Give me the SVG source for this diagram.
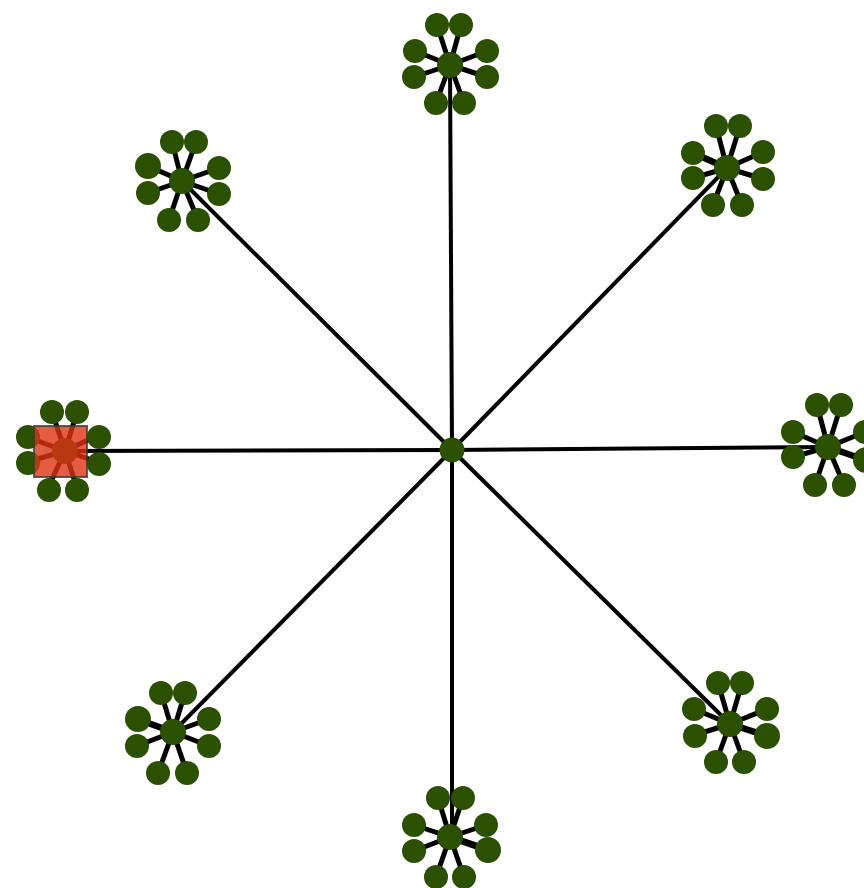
<svg xmlns="http://www.w3.org/2000/svg" width="864" height="888" viewBox="0 0 864 888">
<style>
.bg{fill:#ffffff}
.spoke{stroke:#000;stroke-width:4;stroke-linecap:butt}
.le{stroke:#000;stroke-width:5}
.n{fill:#2b5000}
.sel{fill:#dd3311;fill-opacity:0.8;stroke:#3a3a3a;stroke-opacity:0.8;stroke-width:2}
</style>
<rect class="bg" x="0" y="0" width="864" height="888"/>
<g id="connectors">
<line class="spoke" x1="452" y1="450" x2="450" y2="65"/>
<line class="spoke" x1="452" y1="450" x2="727" y2="168"/>
<line class="spoke" x1="452" y1="450" x2="828" y2="447"/>
<line class="spoke" x1="452" y1="450" x2="730" y2="724"/>
<line class="spoke" x1="452" y1="450" x2="452" y2="837"/>
<line class="spoke" x1="452" y1="450" x2="173" y2="732"/>
<line class="spoke" x1="452" y1="450" x2="65" y2="451"/>
<line class="spoke" x1="452" y1="450" x2="182" y2="181"/>
<g id="e-top"><line class="le" x1="450" y1="65" x2="437" y2="25"/><line class="le" x1="450" y1="65" x2="461" y2="25"/><line class="le" x1="450" y1="65" x2="415" y2="51"/><line class="le" x1="450" y1="65" x2="487" y2="51"/><line class="le" x1="450" y1="65" x2="414" y2="77"/><line class="le" x1="450" y1="65" x2="487" y2="77"/><line class="le" x1="450" y1="65" x2="436" y2="103"/><line class="le" x1="450" y1="65" x2="464" y2="103"/></g>
<g id="e-tr"><line class="le" x1="727" y1="168" x2="716" y2="126"/><line class="le" x1="727" y1="168" x2="740" y2="126"/><line class="le" x1="727" y1="168" x2="693" y2="153" style="stroke-width:6.5"/><line class="le" x1="727" y1="168" x2="763" y2="152"/><line class="le" x1="727" y1="168" x2="693" y2="178"/><line class="le" x1="727" y1="168" x2="763" y2="179"/><line class="le" x1="727" y1="168" x2="713" y2="205"/><line class="le" x1="727" y1="168" x2="742" y2="205"/></g>
<g id="e-r"><line class="le" x1="828" y1="447" x2="817" y2="405"/><line class="le" x1="828" y1="447" x2="841" y2="405"/><line class="le" x1="828" y1="447" x2="793" y2="432"/><line class="le" x1="828" y1="447" x2="865" y2="432"/><line class="le" x1="828" y1="447" x2="793" y2="457"/><line class="le" x1="828" y1="447" x2="865" y2="460" style="stroke-width:6.5"/><line class="le" x1="828" y1="447" x2="815" y2="485"/><line class="le" x1="828" y1="447" x2="844" y2="485"/></g>
<g id="e-br"><line class="le" x1="730" y1="724" x2="718" y2="683"/><line class="le" x1="730" y1="724" x2="742" y2="683"/><line class="le" x1="730" y1="724" x2="694" y2="709"/><line class="le" x1="730" y1="724" x2="767" y2="709"/><line class="le" x1="730" y1="724" x2="695" y2="735"/><line class="le" x1="730" y1="724" x2="767" y2="736" style="stroke-width:6.5"/><line class="le" x1="730" y1="724" x2="716" y2="762"/><line class="le" x1="730" y1="724" x2="744" y2="762"/></g>
<g id="e-b"><line class="le" x1="450" y1="837" x2="438" y2="798"/><line class="le" x1="450" y1="837" x2="463" y2="798"/><line class="le" x1="450" y1="837" x2="414" y2="825"/><line class="le" x1="450" y1="837" x2="486" y2="825"/><line class="le" x1="450" y1="837" x2="414" y2="851"/><line class="le" x1="450" y1="837" x2="488" y2="850" style="stroke-width:7"/><line class="le" x1="450" y1="837" x2="436" y2="877"/><line class="le" x1="450" y1="837" x2="464" y2="877"/></g>
<g id="e-bl"><line class="le" x1="173" y1="732" x2="161" y2="693"/><line class="le" x1="173" y1="732" x2="185" y2="693"/><line class="le" x1="173" y1="732" x2="137" y2="719" style="stroke-width:6.5"/><line class="le" x1="173" y1="732" x2="209" y2="719"/><line class="le" x1="173" y1="732" x2="137" y2="746"/><line class="le" x1="173" y1="732" x2="209" y2="746"/><line class="le" x1="173" y1="732" x2="158" y2="773"/><line class="le" x1="173" y1="732" x2="187" y2="773"/></g>
<g id="e-l"><line class="le" x1="65" y1="451" x2="52" y2="412"/><line class="le" x1="65" y1="451" x2="77" y2="412"/><line class="le" x1="65" y1="451" x2="27" y2="437"/><line class="le" x1="65" y1="451" x2="98" y2="435"/><line class="le" x1="65" y1="451" x2="27" y2="462"/><line class="le" x1="65" y1="451" x2="98" y2="462"/><line class="le" x1="65" y1="451" x2="48" y2="488"/><line class="le" x1="65" y1="451" x2="77" y2="488"/></g>
<g id="e-tl"><line class="le" x1="182" y1="181" x2="172" y2="142"/><line class="le" x1="182" y1="181" x2="196" y2="142"/><line class="le" x1="182" y1="181" x2="148" y2="166"/><line class="le" x1="182" y1="181" x2="219" y2="168"/><line class="le" x1="182" y1="181" x2="148" y2="193"/><line class="le" x1="182" y1="181" x2="219" y2="194"/><line class="le" x1="182" y1="181" x2="169" y2="220"/><line class="le" x1="182" y1="181" x2="198" y2="220"/></g>
</g>
<g id="center"><circle class="n" cx="452" cy="450" r="12.5"/></g>
<g id="hub-top"><circle class="n" cx="450" cy="65" r="13"/></g>
<g id="top-leaves"><circle class="n" cx="437" cy="25" r="12"/><circle class="n" cx="461" cy="25" r="12"/><circle class="n" cx="415" cy="51" r="12"/><circle class="n" cx="487" cy="51" r="12"/><circle class="n" cx="414" cy="77" r="12"/><circle class="n" cx="487" cy="77" r="12"/><circle class="n" cx="436" cy="103" r="12"/><circle class="n" cx="464" cy="103" r="12"/></g>
<g id="hub-tr"><circle class="n" cx="727" cy="168" r="13"/></g>
<g id="tr-leaves"><circle class="n" cx="716" cy="126" r="12"/><circle class="n" cx="740" cy="126" r="12"/><circle class="n" cx="693" cy="153" r="12"/><circle class="n" cx="763" cy="152" r="12"/><circle class="n" cx="693" cy="178" r="12"/><circle class="n" cx="763" cy="179" r="12"/><circle class="n" cx="713" cy="205" r="12"/><circle class="n" cx="742" cy="205" r="12"/></g>
<g id="hub-r"><circle class="n" cx="828" cy="447" r="13"/></g>
<g id="r-leaves"><circle class="n" cx="817" cy="405" r="12"/><circle class="n" cx="841" cy="405" r="12"/><circle class="n" cx="793" cy="432" r="12"/><circle class="n" cx="865" cy="432" r="12"/><circle class="n" cx="793" cy="457" r="12"/><circle class="n" cx="866" cy="460" r="13"/><circle class="n" cx="815" cy="485" r="12"/><circle class="n" cx="844" cy="485" r="12"/></g>
<g id="hub-br"><circle class="n" cx="730" cy="724" r="13"/></g>
<g id="br-leaves"><circle class="n" cx="718" cy="683" r="12"/><circle class="n" cx="742" cy="683" r="12"/><circle class="n" cx="694" cy="709" r="12"/><circle class="n" cx="767" cy="709" r="12"/><circle class="n" cx="695" cy="736" r="12"/><circle class="n" cx="767" cy="736" r="13"/><circle class="n" cx="716" cy="762" r="12"/><circle class="n" cx="744" cy="762" r="12"/></g>
<g id="hub-b"><circle class="n" cx="450" cy="837" r="13"/></g>
<g id="b-leaves"><circle class="n" cx="438" cy="798" r="12"/><circle class="n" cx="463" cy="798" r="12"/><circle class="n" cx="414" cy="825" r="12"/><circle class="n" cx="486" cy="825" r="12"/><circle class="n" cx="414" cy="851" r="12"/><circle class="n" cx="488" cy="850" r="13"/><circle class="n" cx="436" cy="877" r="12"/><circle class="n" cx="464" cy="877" r="12"/></g>
<g id="hub-bl"><circle class="n" cx="173" cy="732" r="13"/></g>
<g id="bl-leaves"><circle class="n" cx="161" cy="693" r="12"/><circle class="n" cx="185" cy="693" r="12"/><circle class="n" cx="138" cy="719" r="13"/><circle class="n" cx="209" cy="719" r="12"/><circle class="n" cx="137" cy="746" r="12"/><circle class="n" cx="209" cy="746" r="12"/><circle class="n" cx="158" cy="773" r="12"/><circle class="n" cx="187" cy="773" r="12"/></g>
<g id="hub-tl"><circle class="n" cx="182" cy="181" r="13"/></g>
<g id="tl-leaves"><circle class="n" cx="172" cy="142" r="12"/><circle class="n" cx="196" cy="142" r="12"/><circle class="n" cx="148" cy="166" r="13"/><circle class="n" cx="219" cy="168" r="12"/><circle class="n" cx="148" cy="193" r="12"/><circle class="n" cx="219" cy="194" r="12"/><circle class="n" cx="169" cy="220" r="12"/><circle class="n" cx="198" cy="220" r="12"/></g>
<g id="l-leaves"><circle class="n" cx="52" cy="412" r="12"/><circle class="n" cx="77" cy="412" r="12"/><circle class="n" cx="28" cy="437" r="12"/><circle class="n" cx="99" cy="437" r="12"/><circle class="n" cx="28" cy="463" r="12"/><circle class="n" cx="99" cy="464" r="12"/><circle class="n" cx="49" cy="490" r="12"/><circle class="n" cx="77" cy="490" r="12"/></g>
<g id="hub-l"><circle class="n" cx="65" cy="451" r="13"/></g>
<g id="selection"><rect class="sel" x="34" y="426" width="53" height="51"/></g>
</svg>
